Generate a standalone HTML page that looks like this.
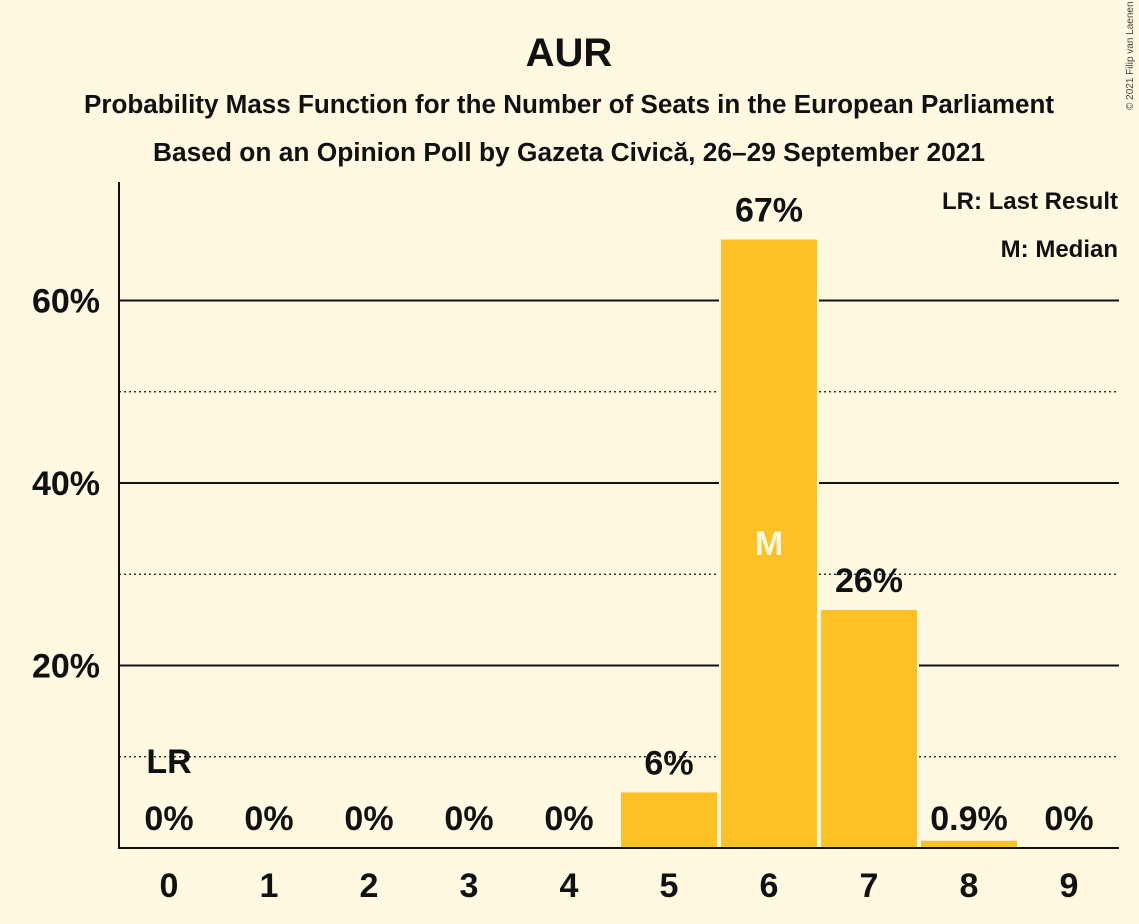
<!DOCTYPE html>
<html><head><meta charset="utf-8"><style>
body{margin:0;background:#fff9e2;}
svg{display:block;font-family:"Liberation Sans",sans-serif;}
</style></head><body>
<svg id="c" width="1139" height="924">
<rect width="1139" height="924" fill="#fff9e2"/>
<text x="569" y="66" text-anchor="middle" font-size="40" font-weight="bold" fill="#111">AUR</text>
<text x="569" y="113" text-anchor="middle" font-size="25.5" font-weight="bold" fill="#111" textLength="970" lengthAdjust="spacingAndGlyphs">Probability Mass Function for the Number of Seats in the European Parliament</text>
<text x="569" y="161" text-anchor="middle" font-size="25.5" font-weight="bold" fill="#111" textLength="832" lengthAdjust="spacingAndGlyphs">Based on an Opinion Poll by Gazeta Civică, 26–29 September 2021</text>
<text x="1133" y="110" font-size="10" fill="#444" transform="rotate(-90 1133 110)">© 2021 Filip van Laenen</text>
<text x="1118" y="209" text-anchor="end" font-size="24" font-weight="bold" fill="#111">LR: Last Result</text>
<text x="1118" y="257" text-anchor="end" font-size="24" font-weight="bold" fill="#111">M: Median</text>
<g id="grid"></g><g id="bars"></g><g id="labels"></g>
<line x1="119" y1="182" x2="119" y2="849" stroke="#111" stroke-width="2"/>
<line x1="118" y1="848" x2="1119" y2="848" stroke="#111" stroke-width="2"/>
</svg>
<script>
const categories=[0,1,2,3,4,5,6,7,8,9];
const values=[0,0,0,0,0,6.2,66.8,26.2,0.9,0];
const valueLabels=["0%","0%","0%","0%","0%","6%","67%","26%","0.9%","0%"];
const yTicks=[20,40,60];
const yTickLabels=["20%","40%","60%"];
const minorTicks=[10,30,50];
const lastResult=0, median=6;
const ns="http://www.w3.org/2000/svg";
const y=v=>848-v*9.125;
const x=c=>169+c*100;
function mk(t,a,p){const e=document.createElementNS(ns,t);for(const k in a)e.setAttribute(k,a[k]);p.appendChild(e);return e;}
const g=document.getElementById('grid'),b=document.getElementById('bars'),l=document.getElementById('labels');
minorTicks.forEach(v=>{const e=mk('line',{x1:119,x2:1119,y1:y(v),y2:y(v),stroke:'#111','stroke-width':1.2,'stroke-dasharray':'2,3'},g);

});
yTicks.forEach((v,i)=>{const e=mk('line',{x1:119,x2:1119,y1:y(v),y2:y(v),stroke:'#111','stroke-width':2},g);


const t=mk('text',{x:100,y:y(v)+12,'text-anchor':'end','font-size':34,'font-weight':'bold',fill:'#111'},g);t.textContent=yTickLabels[i];

});
categories.forEach((c,i)=>{
const v=values[i];
if(v>0){const r=mk('rect',{x:x(c)-49,y:y(v),width:98,height:848-y(v),fill:'#fbc125',stroke:'#fff9e2','stroke-width':2},b);

}
const inside=c===median;
const t=mk('text',{x:x(c),y:v>3?y(v)-17:830,'text-anchor':'middle','font-size':34,'font-weight':'bold',fill:'#111'},l);t.textContent=valueLabels[i];


const xt=mk('text',{x:x(c),y:897,'text-anchor':'middle','font-size':34,'font-weight':'bold',fill:'#111'},l);xt.textContent=c;


if(inside){const m=mk('text',{x:x(c),y:y(v/2)+12,'text-anchor':'middle','font-size':34,'font-weight':'bold',fill:'#fff9e2'},l);m.textContent='M';

}
if(c===lastResult){const m=mk('text',{x:x(c),y:773,'text-anchor':'middle','font-size':34,'font-weight':'bold',fill:'#111'},l);m.textContent='LR';

}
});
</script>
</body></html>
